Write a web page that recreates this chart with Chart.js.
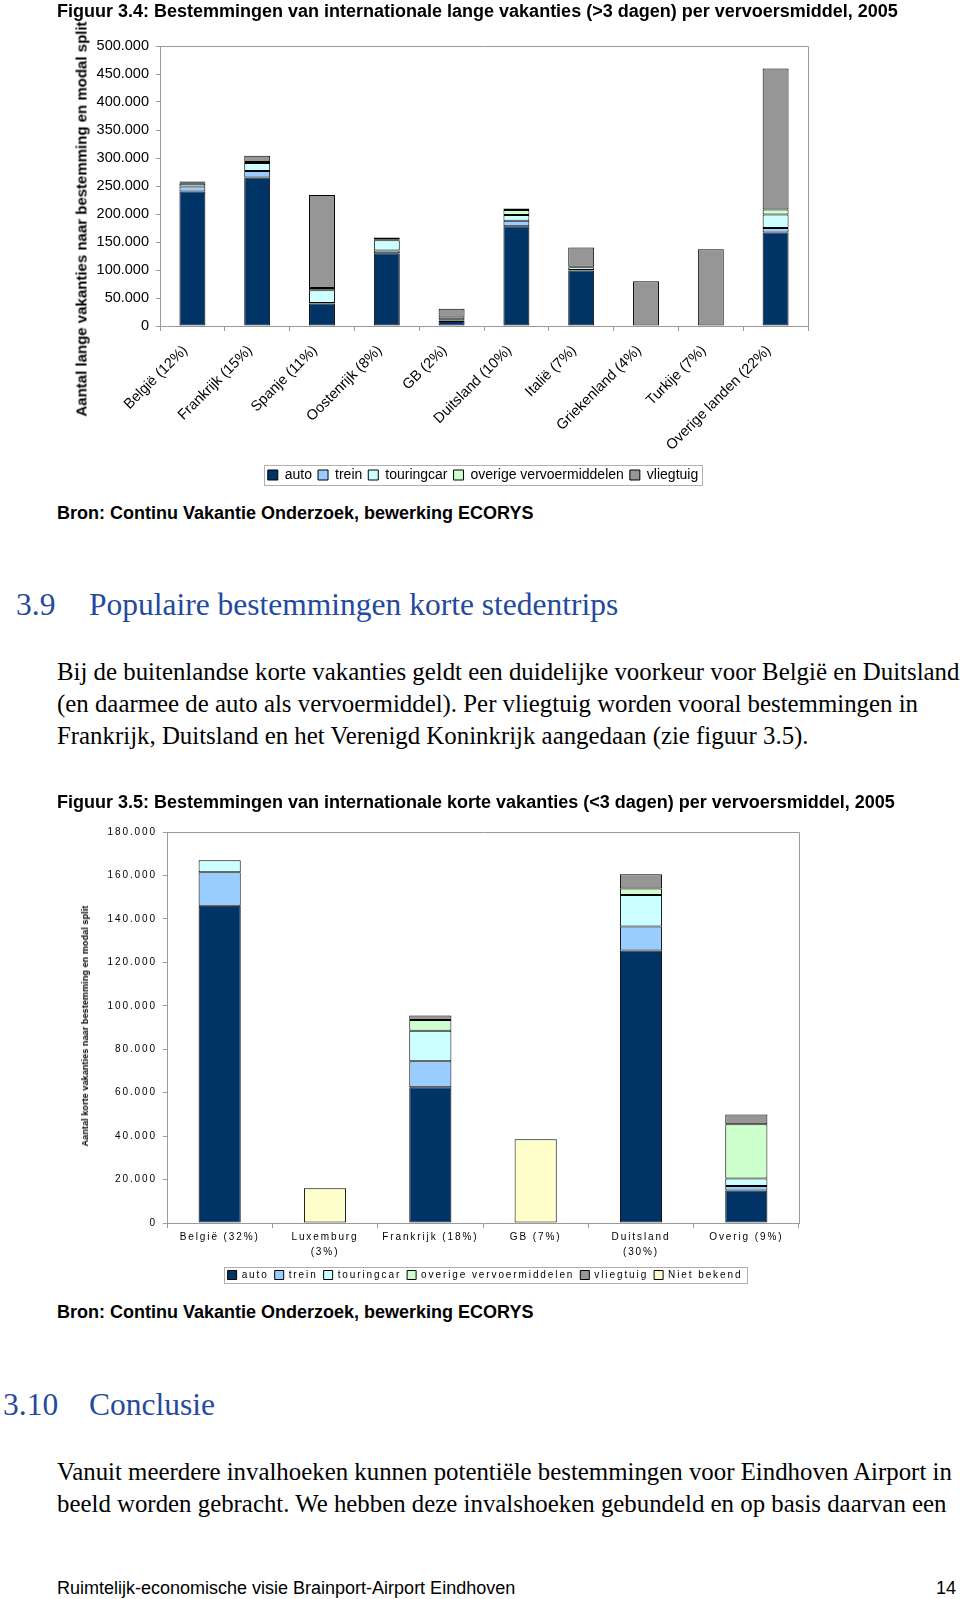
<!DOCTYPE html>
<html><head><meta charset="utf-8">
<script src="https://cdn.jsdelivr.net/npm/chart.js@4.4.1/dist/chart.umd.min.js"></script>
<style>
html,body{margin:0;padding:0;background:#fff}
body{width:960px;height:1599px;position:relative;overflow:hidden;font-family:"Liberation Sans",Arial,sans-serif;color:#000}
.t{position:absolute;white-space:nowrap;line-height:20px}
.cap{font-weight:bold;font-size:18px}
.h{font-family:"Liberation Serif","Times New Roman",serif;font-size:31.5px;color:#234a9c;line-height:34px}
.p{font-family:"Liberation Serif","Times New Roman",serif;font-size:24.85px;line-height:26px}
.yt{position:absolute;transform:translate(-50%,-50%) rotate(-90deg);white-space:nowrap;font-weight:bold}
#c1wrap{position:absolute;left:0;top:0;width:960px;height:500px}
#c2wrap{position:absolute;left:0;top:810px;width:960px;height:490px}
</style>
</head><body>
<div id="c1wrap"><canvas id="c1"></canvas></div>
<div id="c2wrap"><canvas id="c2"></canvas></div>

<div class="t cap" style="left:57px;top:1px">Figuur 3.4: Bestemmingen van internationale lange vakanties (&gt;3 dagen) per vervoersmiddel, 2005</div>
<div class="yt" style="left:80.5px;top:219px;font-size:15px">Aantal lange vakanties naar bestemming en modal split</div>
<div class="t cap" style="left:57px;top:503px">Bron: Continu Vakantie Onderzoek, bewerking ECORYS</div>

<div class="t h" style="left:16px;top:588px">3.9</div>
<div class="t h" style="left:89px;top:588px">Populaire bestemmingen korte stedentrips</div>
<div class="t p" style="left:57px;top:659px">Bij de buitenlandse korte vakanties geldt een duidelijke voorkeur voor België en Duitsland</div>
<div class="t p" style="left:57px;top:691px">(en daarmee de auto als vervoermiddel). Per vliegtuig worden vooral bestemmingen in</div>
<div class="t p" style="left:57px;top:723px">Frankrijk, Duitsland en het Verenigd Koninkrijk aangedaan (zie figuur 3.5).</div>

<div class="t cap" style="left:57px;top:792px">Figuur 3.5: Bestemmingen van internationale korte vakanties (&lt;3 dagen) per vervoersmiddel, 2005</div>
<div class="yt" style="left:85px;top:1026px;font-size:9px;letter-spacing:0.1px">Aantal korte vakanties naar bestemming en modal split</div>
<div class="t cap" style="left:57px;top:1302px">Bron: Continu Vakantie Onderzoek, bewerking ECORYS</div>

<div class="t h" style="left:3px;top:1388px">3.10</div>
<div class="t h" style="left:89px;top:1388px">Conclusie</div>
<div class="t p" style="left:57px;top:1459px">Vanuit meerdere invalhoeken kunnen potentiële bestemmingen voor Eindhoven Airport in</div>
<div class="t p" style="left:57px;top:1491px">beeld worden gebracht. We hebben deze invalshoeken gebundeld en op basis daarvan een</div>

<div class="t" style="left:57px;top:1578px;font-size:18px">Ruimtelijk-economische visie Brainport-Airport Eindhoven</div>
<div class="t" style="right:4px;top:1578px;font-size:18px">14</div>

<script>
// ---------- Figuur 3.4 data ----------
const categories1 = ['België (12%)','Frankrijk (15%)','Spanje (11%)','Oostenrijk (8%)','GB (2%)','Duitsland (10%)','Italië (7%)','Griekenland (4%)','Turkije (7%)','Overige landen (22%)'];
const auto1     = [240000,265000, 40000,130000,  9000,178000, 99000,  1000,  1000,167000];
const trein1    = [  9000, 12000,  1000,  5000,  1000, 10000,  1000,     0,     0,  8000];
const touring1  = [  5000, 14000, 23000, 18000,  1000, 10000,  5000,     0,     0, 24000];
const overige1  = [  2000,  2000,  4000,  2000,  4000,  9000,  1000,     0,     0,  9000];
const vlieg1    = [  2000, 11000,166000,  3000, 16000,  3000, 34000, 79000,136000,252000];
const yTicks1   = [0,50000,100000,150000,200000,250000,300000,350000,400000,450000,500000];

// ---------- Figuur 3.5 data ----------
const categories2 = ['België (32%)',['Luxemburg','(3%)'],'Frankrijk (18%)','GB (7%)',['Duitsland','(30%)'],'Overig (9%)'];
const auto2       = [146000,     0, 62500,     0,125500, 15000];
const trein2      = [ 15500,     0, 12000,     0, 11000,  2000];
const touring2    = [  5500,     0, 14000,     0, 14500,  3500];
const overige2    = [     0,     0,  5000,     0,  3000, 25000];
const vlieg2      = [     0,     0,  2000,     0,  6500,  4500];
const nietBekend2 = [     0, 16000,     0, 38500,     0,     0];
const yTicks2     = [0,20000,40000,60000,80000,100000,120000,140000,160000,180000];

const seriesNames = ['auto','trein','touringcar','overige vervoermiddelen','vliegtuig','Niet bekend'];
const seriesColors = ['#003366','#99ccff','#ccffff','#ccffcc','#969696','#ffffcc'];

const fmt = v => String(v).replace(/\B(?=(\d{3})+(?!\d))/g,'.');

const frame = {
  id:'frame',
  beforeDatasetsDraw(c){
    const {left,top,right,bottom}=c.chartArea, x=c.ctx;
    x.save(); x.strokeStyle='#9a9a9a'; x.lineWidth=1;
    x.beginPath();
    x.moveTo(Math.round(left)+0.5, Math.round(top)+0.5);
    x.lineTo(Math.round(right)+0.5, Math.round(top)+0.5);
    x.lineTo(Math.round(right)+0.5, Math.round(bottom)+0.5);
    x.stroke(); x.restore();
  }
};
const legendBox = {
  id:'legendBox',
  afterLayout(c, args, o){
    const l=c.legend; if(!l) return;
    const w=l.right-l.left; l.left=o.cx-w/2; l.right=o.cx+w/2;
  },
  afterDraw(c, args, o){
    const l=c.legend; if(!l||!l.legendHitBoxes||!l.legendHitBoxes.length) return;
    const hb=l.legendHitBoxes;
    const x0=Math.min(...hb.map(h=>h.left)), x1=Math.max(...hb.map(h=>h.left+h.width));
    const y0=Math.min(...hb.map(h=>h.top)), y1=Math.max(...hb.map(h=>h.top+h.height));
    const x=c.ctx; x.save(); x.strokeStyle='#b0b0b0'; x.lineWidth=1;
    x.strokeRect(Math.round(x0-o.px)+0.5, Math.round(y0-o.py)+0.5, Math.round(x1-x0+2*o.px), Math.round(y1-y0+2*o.py));
    x.restore();
  }
};
const spacing = {
  id:'spacing',
  beforeLayout(c,a,o){ c.ctx.letterSpacing=o.ls; },
  beforeDraw(c,a,o){ c.ctx.letterSpacing=o.ls; }
};

function ds(name, data, i){
  return {label:name, data, backgroundColor:seriesColors[i], borderColor:'#000', borderWidth:1,
          borderSkipped:false, barPercentage:0.4, categoryPercentage:1};
}

// ---------- Chart 1 ----------
new Chart(document.getElementById('c1'), {
  type:'bar',
  data:{ labels:categories1, datasets:[
    ds(seriesNames[0], auto1, 0), ds(seriesNames[1], trein1, 1), ds(seriesNames[2], touring1, 2),
    ds(seriesNames[3], overige1, 3), ds(seriesNames[4], vlieg1, 4)
  ]},
  options:{
    responsive:true, maintainAspectRatio:false, animation:false,
    layout:{padding:{left:0,top:46,right:152,bottom:8}},
    plugins:{
      legend:{position:'bottom', labels:{boxWidth:10, boxHeight:10, padding:6, color:'#000',
        font:{family:'"Liberation Sans", Arial, sans-serif', size:14}}},
      tooltip:{enabled:false},
      legendBox:{px:4, py:3, cx:483}
    },
    scales:{
      x:{ stacked:true,
        grid:{offset:true, drawOnChartArea:false, drawTicks:true, tickLength:5, color:'#9a9a9a'},
        border:{color:'#9a9a9a'},
        ticks:{minRotation:45, maxRotation:45, color:'#000', padding:11, labelOffset:-7,
          font:{family:'"Liberation Sans", Arial, sans-serif', size:14.5}},
        afterFit(s){ s.height=136; }
      },
      y:{ stacked:true, min:0, max:500000,
        afterBuildTicks(s){ s.ticks = yTicks1.map(v=>({value:v})); },
        grid:{drawOnChartArea:false, drawTicks:true, tickLength:4, color:'#9a9a9a'},
        border:{color:'#9a9a9a'},
        ticks:{color:'#000', padding:7, callback:v=>fmt(v),
          font:{family:'"Liberation Sans", Arial, sans-serif', size:14.5}},
        afterFit(s){ s.width=160; }
      }
    }
  },
  plugins:[frame, legendBox]
});

// ---------- Chart 2 ----------
new Chart(document.getElementById('c2'), {
  type:'bar',
  data:{ labels:categories2, datasets:[
    ds(seriesNames[0], auto2, 0), ds(seriesNames[1], trein2, 1), ds(seriesNames[2], touring2, 2),
    ds(seriesNames[3], overige2, 3), ds(seriesNames[4], vlieg2, 4), ds(seriesNames[5], nietBekend2, 5)
  ]},
  options:{
    responsive:true, maintainAspectRatio:false, animation:false,
    layout:{padding:{left:0,top:22,right:161,bottom:10}},
    plugins:{
      legend:{position:'bottom', labels:{boxWidth:9, boxHeight:9, padding:6, color:'#000',
        font:{family:'"Liberation Sans", Arial, sans-serif', size:10}}},
      tooltip:{enabled:false},
      legendBox:{px:4, py:3, cx:485},
      spacing:{ls:'1.9px'}
    },
    scales:{
      x:{ stacked:true,
        grid:{offset:true, drawOnChartArea:false, drawTicks:true, tickLength:5, color:'#9a9a9a'},
        border:{color:'#9a9a9a'},
        ticks:{maxRotation:0, minRotation:0, color:'#000', padding:2,
          font:{family:'"Liberation Sans", Arial, sans-serif', size:10, lineHeight:1.5}},
        afterFit(s){ s.height=41; }
      },
      y:{ stacked:true, min:0, max:180000,
        afterBuildTicks(s){ s.ticks = yTicks2.map(v=>({value:v})); },
        grid:{drawOnChartArea:false, drawTicks:true, tickLength:4, color:'#9a9a9a'},
        border:{color:'#9a9a9a'},
        ticks:{color:'#000', padding:6, callback:v=>fmt(v),
          font:{family:'"Liberation Sans", Arial, sans-serif', size:10}},
        afterFit(s){ s.width=167; }
      }
    }
  },
  plugins:[frame, legendBox, spacing]
});
</script>
</body></html>
